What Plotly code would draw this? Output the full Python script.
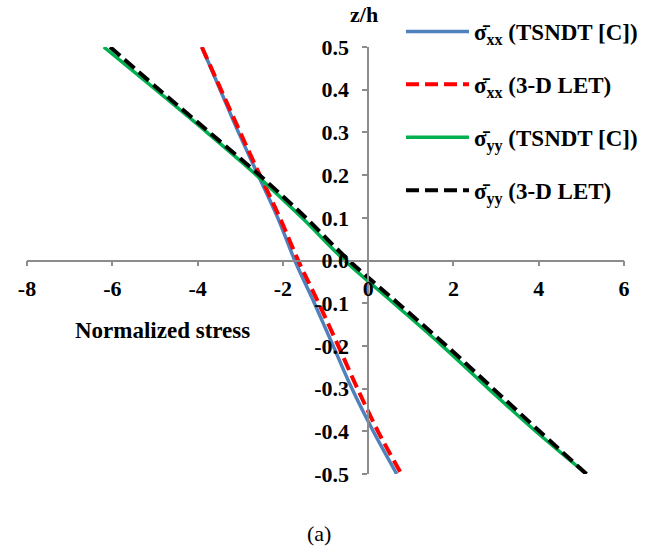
import plotly.graph_objects as go

# ---- data ----
z = [0.5, 0.4, 0.3, 0.2, 0.1, 0.0, -0.1, -0.2, -0.3, -0.4, -0.5]
sxx_tsndt = [-3.90, -3.47, -3.04, -2.58, -2.12, -1.72, -1.26, -0.82, -0.38, 0.12, 0.67]
sxx_let   = [-3.90, -3.45, -3.00, -2.54, -2.07, -1.64, -1.16, -0.70, -0.25, 0.23, 0.78]
syy_tsndt = [-6.20, -4.98, -3.78, -2.62, -1.55, -0.55, 0.60, 1.74, 2.82, 3.93, 5.12]
syy_let   = [-6.05, -4.90, -3.72, -2.55, -1.46, -0.45, 0.70, 1.84, 2.93, 4.02, 5.12]

names = ["σ̄<sub>xx</sub> (TSNDT [C])", "σ̄<sub>xx</sub> (3-D LET)",
         "σ̄<sub>yy</sub> (TSNDT [C])", "σ̄<sub>yy</sub> (3-D LET)"]

x_ticks = [-8, -6, -4, -2, 0, 2, 4, 6]
x_ticktext = ["-8", "-6", "-4", "-2", "0", "2", "4", "6"]
y_ticks = [0.5, 0.4, 0.3, 0.2, 0.1, 0.0, -0.1, -0.2, -0.3, -0.4, -0.5]
y_ticktext = ["0.5", "0.4", "0.3", "0.2", "0.1", "0.0", "-0.1", "-0.2", "-0.3", "-0.4", "-0.5"]

FONT = "Liberation Serif"
W, H = 650, 547
ML, MR, MT, MB = 27, 26, 47, 73
PW, PH = W - ML - MR, H - MT - MB

def px_x(p):
    return (p - ML) / PW

def px_y(p):
    return (H - MB - p) / PH

fig = go.Figure()
series = [
    (sxx_tsndt, dict(color="#4F81BD", width=3.5), names[0]),
    (sxx_let, dict(color="#FF0000", width=4, dash="13px,6px"), names[1]),
    (syy_tsndt, dict(color="#00B050", width=3.5), names[2]),
    (syy_let, dict(color="#000000", width=4, dash="13px,6px"), names[3]),
]
for i, (vals, line, nm) in enumerate(series):
    fig.add_trace(go.Scatter(x=vals, y=z, mode="lines", line=dict(shape="spline", **line),
                             name=nm, legendgroup=str(i)))

xmin, xmax = -8, 6
fig.update_layout(
    width=W, height=H,
    margin=dict(l=ML, r=MR, t=MT, b=MB, autoexpand=False),
    paper_bgcolor="white", plot_bgcolor="white",
    font=dict(family=FONT, size=22, color="black"),
    showlegend=True,
    legend=dict(x=px_x(401), y=px_y(10), xanchor="left", yanchor="top",
                traceorder="grouped", tracegroupgap=20, itemwidth=63,
                font=dict(family=FONT, size=23, color="black", weight="bold"),
                bgcolor="rgba(0,0,0,0)"),
    xaxis=dict(range=[xmin, xmax], tickvals=x_ticks, ticktext=x_ticktext, automargin=False,
               showgrid=False, zeroline=False, showline=True, linecolor="#8c8c8c", linewidth=1.5,
               ticks="outside", ticklen=5, tickcolor="#8c8c8c", tickwidth=1.5,
               anchor="free", position=0.5, ticklabelstandoff=3,
               tickfont=dict(family=FONT, size=22, color="black", weight="bold")),
    yaxis=dict(range=[-0.5, 0.5], tickvals=y_ticks, ticktext=y_ticktext, automargin=False,
               showgrid=False, zeroline=False, showline=True, linecolor="#8c8c8c", linewidth=1.5,
               ticks="outside", ticklen=5, tickcolor="#8c8c8c", tickwidth=1.5,
               anchor="free", position=(0 - xmin) / (xmax - xmin), ticklabelstandoff=9,
               tickfont=dict(family=FONT, size=22, color="black", weight="bold")),
)

fig.add_annotation(text="<b>z/h</b>", x=px_x(364), y=px_y(15), xref="paper", yref="paper",
                   xanchor="center", yanchor="middle",
                   showarrow=False, font=dict(family=FONT, size=22, color="black"))
fig.add_annotation(text="<b>Normalized stress</b>", x=px_x(162), y=px_y(330), xref="paper", yref="paper",
                   xanchor="center", yanchor="middle",
                   showarrow=False, font=dict(family=FONT, size=23, color="black"))
fig.add_annotation(text="(a)", x=px_x(319), y=px_y(533), xref="paper", yref="paper",
                   xanchor="center", yanchor="middle",
                   showarrow=False, font=dict(family=FONT, size=22, color="black"))

fig.write_html("out.html", config={"displayModeBar": False},
               post_script="document.body.style.margin='0';")
